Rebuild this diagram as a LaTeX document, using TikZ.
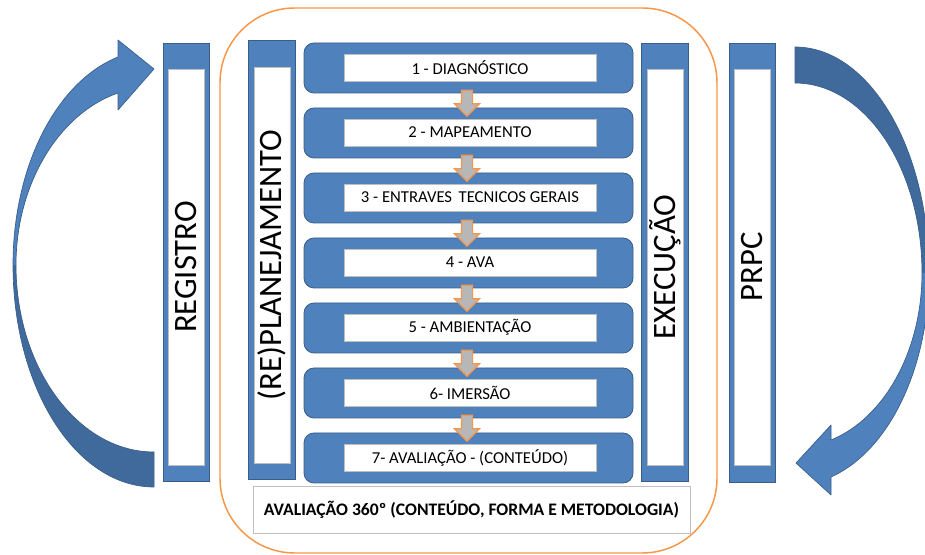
\documentclass[tikz,border=0pt]{standalone}
\usepackage{fontspec}
\setmainfont{Carlito}
\usetikzlibrary{shapes.arrows,calc}
\definecolor{obl}{HTML}{4F81BD}
\definecolor{obd}{HTML}{385D8A}
\definecolor{obk}{HTML}{406A9C}
\definecolor{ogr}{HTML}{BFBFBF}
\definecolor{oor}{HTML}{F79646}
\definecolor{ogy}{HTML}{B7B7B7}
\tikzset{
  barbox/.style={draw=obd, fill=obl, line width=0.6pt, minimum width=35pt, minimum height=329pt, inner sep=0pt},
  barin/.style={draw=ogr, fill=white, line width=0.6pt, minimum width=27pt, minimum height=297pt, inner sep=0pt, font=\fontsize{24.5}{26}\selectfont},
  stepbox/.style={draw=obd, fill=obl, line width=0.6pt, rounded corners=7.5pt, minimum width=246.75pt, minimum height=37.5pt, inner sep=0pt},
  stepin/.style={draw=ogr, fill=white, line width=0.6pt, minimum width=189pt, minimum height=20.25pt, inner sep=0pt, font=\fontsize{12.5}{14}\selectfont},
  downarrow/.style={single arrow, draw=oor, fill=ogy, line width=0.9pt, rotate=-90, inner xsep=0pt, inner ysep=3.75pt, single arrow head extend=5.25pt, minimum height=19.5pt},
  curveline/.style={draw=obd, line width=0.5pt, line join=round}
}
\begin{document}
\begin{tikzpicture}[x=0.75pt,y=-0.75pt]
\useasboundingbox (0,0) rectangle (925,555);
\clip (0,0) rectangle (925,555);
% orange frame
\draw[oor, line width=1.1pt, rounded corners=56pt] (220,8) rectangle (717,553);
% left curved arrow
\fill[obk] (154,487) .. controls (76,487) and (13,388) .. (13,265) -- (16,265) .. controls (16,368) and (78,452) .. (154,452) -- cycle;
\fill[obl] (13,265) .. controls (13,167) and (56,82) .. (118,57) -- (118,40) -- (154,69) -- (118,110) -- (118,93) .. controls (58,114) and (16,185) .. (16,265) -- cycle;
\draw[curveline] (154,487) .. controls (76,487) and (13,388) .. (13,265) .. controls (13,167) and (56,82) .. (118,57) -- (118,40) -- (154,69) -- (118,110) -- (118,93) .. controls (58,114) and (16,185) .. (16,265) .. controls (16,368) and (78,452) .. (154,452) -- cycle;
% right curved arrow
\fill[obk] (795,47) .. controls (869,47) and (929,148) .. (929,273) -- (922,273) .. controls (922,168) and (865,83) .. (795,83) -- cycle;
\fill[obl] (929,273) .. controls (929,368) and (889,451) .. (831,477) -- (831,495) -- (796,463) -- (831,425) -- (831,440) .. controls (885,418) and (922,350) .. (922,273) -- cycle;
\draw[curveline] (795,47) .. controls (869,47) and (929,148) .. (929,273) .. controls (929,368) and (889,451) .. (831,477) -- (831,495) -- (796,463) -- (831,425) -- (831,440) .. controls (885,418) and (922,350) .. (922,273) .. controls (922,168) and (865,83) .. (795,83) -- cycle;
% bars
\node[barbox] (reg) at (186.5,262.5) {};
\node[barin] (regt) at (186,267) {\rotatebox{90}{REGISTRO}};
\node[barbox] (plan) at (272,260) {};
\node[barin] (plant) at (272,265) {\rotatebox{90}{(RE)PLANEJAMENTO}};
\node[barbox] (exe) at (665,262.5) {};
\node[barin] (exet) at (665,267) {\rotatebox{90}{EXECUÇÃO}};
\node[barbox] (prpc) at (752.5,263) {};
\node[barin] (prpct) at (752.5,267) {\rotatebox{90}{PRPC}};
% steps
\foreach \i/\t in {1/{1 - DIAGNÓSTICO},2/{2 - MAPEAMENTO},3/{3 - ENTRAVES\,\ TECNICOS GERAIS},4/{4 - AVA},5/{5 - AMBIENTAÇÃO},6/{6- IMERSÃO},7/{7- AVALIAÇÃO - (CONTEÚDO)}}{
  \node[stepbox] (s\i) at (468.5,{68+65*(\i-1)}) {};
  \node[stepin] (t\i) at (470,{67.5+65*(\i-1)}) {\t};
}
% small arrows
\foreach \i [evaluate=\i as \j using int(\i+1)] in {1,...,6}{
  \node[downarrow] (a\i) at ($(s\i.south)!0.5!(s\j.north)+(-1.5,0)$) {};
}
% bottom box
\node[draw=ogr, fill=white, line width=0.6pt, minimum width=327.75pt, minimum height=35.25pt, inner sep=0pt, font=\bfseries\fontsize{13.2}{15}\selectfont] (aval) at (471.5,509.5) {AVALIAÇÃO 360º (CONTEÚDO, FORMA E METODOLOGIA)};
\end{tikzpicture}
\end{document}
